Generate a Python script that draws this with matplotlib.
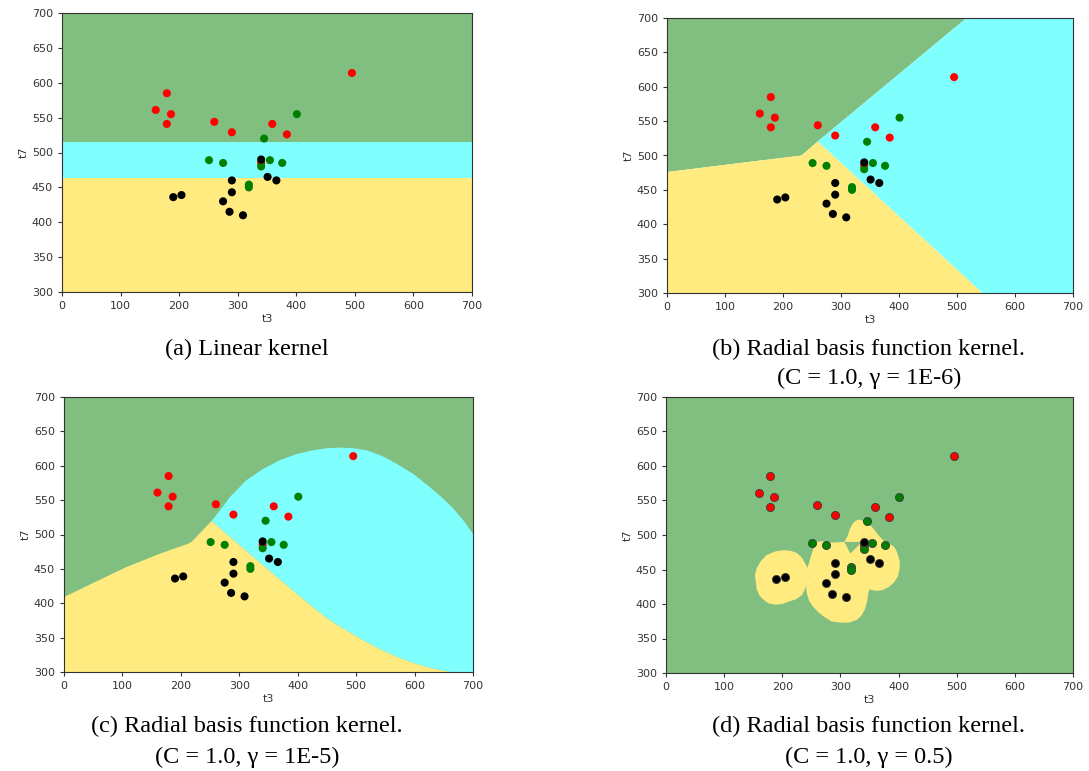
import matplotlib
matplotlib.use("Agg")
import matplotlib.pyplot as plt
from matplotlib.patches import Polygon

# scatter points (t3, t7) per class
red_t3 = [160, 179, 186, 179, 260, 290, 359, 384, 495, 340]
red_t7 = [561, 585, 555, 541, 544, 529, 541, 526, 614, 485]
green_t3 = [401, 345, 251, 275, 355, 376, 340, 319, 319]
green_t7 = [555, 520, 489, 485, 489, 485, 480, 454, 450]
black_t3 = [340, 351, 366, 290, 290, 275, 286, 309, 190, 204]
black_t7 = [490, 465, 460, 460, 443, 430, 415, 410, 436, 439]

# (a) linear kernel: band limits of the middle class
a_band = [464, 515.5]

# (b) rbf gamma=1e-6: boundaries from the triple point
b_gy_t3 = [0, 232, 260]
b_gy_t7 = [476, 500, 520.5]
b_gc_t3 = [260, 516.5]
b_gc_t7 = [520.5, 700]
b_yc_t3 = [260, 544]
b_yc_t7 = [520.5, 300]

# (c) rbf gamma=1e-5
c_gy_t3 = [0, 50, 107, 164, 210, 218, 252.5]
c_gy_t7 = [409, 429.5, 452.7, 472, 485.8, 489, 519.6]
c_gc_t3 = [252.5, 267, 284, 312, 340, 369, 398, 426, 450, 472, 495, 518, 545, 569, 598, 626, 648, 666, 684, 700]
c_gc_t7 = [519.6, 535, 554.5, 578.8, 595, 608, 617, 622.5, 625.5, 626.4, 625.5, 622.5, 614, 603, 588, 569, 553, 538, 520, 501]
c_yc_t3 = [252.5, 284, 312, 341, 370, 398, 426, 455, 484, 512, 541, 569, 598, 626, 648, 662]
c_yc_t7 = [519.6, 496.4, 476, 455, 434, 414, 394, 375, 360, 346, 333, 322, 313, 306, 302, 300]

# (d) rbf gamma=0.5: regions of the black class
d_blob1_t3 = [153, 156, 163, 173, 187, 202, 215, 225, 234, 239, 243, 245, 244, 242, 238, 234, 224, 213, 200, 188, 176, 168, 161, 156]
d_blob1_t7 = [442, 452, 462, 471, 476, 478, 477, 474, 467, 459, 453, 447, 437, 428, 420, 413, 407, 404, 400, 399, 401, 406, 412, 421]
d_blob2_t3 = [258, 270, 285, 307, 312, 316, 320, 325, 330, 334, 340, 345, 354, 365, 374, 382, 391, 396, 399, 402, 402, 399, 392, 382, 372, 362,
              350, 348, 346, 342, 336, 328, 315, 299, 284, 271, 261, 253, 246, 242, 241, 242, 245, 241, 245, 251]
d_blob2_t7 = [490, 491, 489, 490, 498, 508, 515, 520, 522, 522, 520, 518, 512, 500, 492, 488, 484, 478, 471, 462, 452, 440, 431, 424, 420, 419,
              421, 416, 404, 392, 383, 377, 373, 373, 375, 382, 389, 396, 405, 416, 425, 433, 440, 447, 457, 474]
d_hole_t3 = [307, 337, 317]
d_hole_t7 = [490, 490, 473]

captions = [
    ["(a) Linear kernel"],
    ["(b) Radial basis function kernel.", "(C = 1.0, \u03b3 = 1E-6)"],
    ["(c) Radial basis function kernel.", "(C = 1.0, \u03b3 = 1E-5)"],
    ["(d) Radial basis function kernel.", "(C = 1.0, \u03b3 = 0.5)"],
]

GREEN = (0.5, 0.75, 0.5)
CYAN = (0.5, 1.0, 1.0)
YELLOW = (1.0, 0.92, 0.5)

W, H = 1089, 771
fig = plt.figure(figsize=(W / 100, H / 100), dpi=100)


def px_axes(x0, y0, x1, y1):
    return fig.add_axes([x0 / W, 1 - y1 / H, (x1 - x0) / W, (y1 - y0) / H])


boxes = [(62, 13, 472, 292), (667, 18, 1073, 293), (64, 397, 473, 672), (666, 397, 1073, 673)]
axes = [px_axes(*b) for b in boxes]


def poly(ax, xs, ys, color):
    ax.add_patch(Polygon(list(zip(xs, ys)), closed=True, facecolor=color, edgecolor="none", zorder=1))


# (a)
ax = axes[0]
ax.axhspan(300, a_band[0], color=YELLOW, lw=0, zorder=1)
ax.axhspan(a_band[0], a_band[1], color=CYAN, lw=0, zorder=1)
ax.axhspan(a_band[1], 700, color=GREEN, lw=0, zorder=1)

# (b)
ax = axes[1]
poly(ax, [0] + b_gy_t3 + [b_gc_t3[-1]], [700] + b_gy_t7 + [700], GREEN)
poly(ax, [0] + b_gy_t3 + b_yc_t3[1:] + [0], [300] + b_gy_t7 + b_yc_t7[1:] + [300], YELLOW)
poly(ax, b_gc_t3 + [700, 700] + b_yc_t3[::-1], b_gc_t7 + [700, 300] + b_yc_t7[::-1], CYAN)

# (c)
ax = axes[2]
ax.set_facecolor(GREEN)
poly(ax, c_gc_t3 + [700] + c_yc_t3[::-1], c_gc_t7 + [300] + c_yc_t7[::-1], CYAN)
poly(ax, [0] + c_gy_t3 + c_yc_t3[1:], [300] + c_gy_t7 + c_yc_t7[1:], YELLOW)

# (d)
ax = axes[3]
ax.set_facecolor(GREEN)
poly(ax, d_blob1_t3, d_blob1_t7, YELLOW)
poly(ax, d_blob2_t3, d_blob2_t7, YELLOW)
poly(ax, d_hole_t3, d_hole_t7, GREEN)

for i, ax in enumerate(axes):
    edge = "#3a3a3a" if i == 3 else "none"
    for xs, ys, c in [(red_t3, red_t7, "red"), (green_t3, green_t7, "green"), (black_t3, black_t7, "black")]:
        ax.scatter(xs, ys, s=34, c=c, edgecolors=edge, linewidths=0.6, zorder=3)
    ax.set_xlim(0, 700)
    ax.set_ylim(300, 700)
    ax.set_xticks(range(0, 701, 100))
    ax.set_yticks(range(300, 701, 50))
    ax.tick_params(labelsize=8, colors="#333333", length=3, width=0.8)
    ax.set_xlabel("t3", fontsize=8, color="#333333", labelpad=2)
    ax.set_ylabel("t7", fontsize=8, color="#333333", labelpad=2)
    for s in ax.spines.values():
        s.set_color("#333333")
        s.set_linewidth(0.8)

# captions, one text per line
cap_x = [247, 869, 247, 869]
cap_y = [[349], [349, 378], [726, 757], [726, 757]]
for cx, ys, lines in zip(cap_x, cap_y, captions):
    for cy, txt in zip(ys, lines):
        fig.text(cx / W, 1 - cy / H, txt, ha="center", va="center", fontsize=17.5,
                 family="Liberation Serif")

fig.savefig("out.png", dpi=100)
